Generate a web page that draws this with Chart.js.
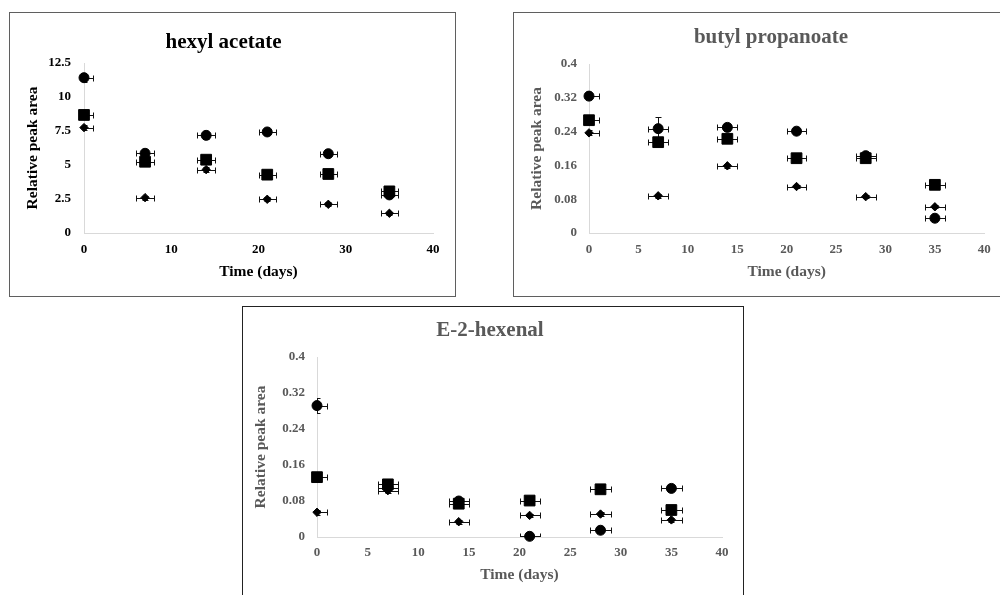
<!DOCTYPE html>
<html>
<head>
<meta charset="utf-8">
<script src="https://cdn.jsdelivr.net/npm/chart.js@4.4.1/dist/chart.umd.min.js"></script>
<style>
  html, body { margin: 0; padding: 0; background: #fff; width: 1000px; height: 595px; overflow: hidden; position: relative; }
  .box { position: absolute; box-sizing: border-box; border: 1px solid #5f5f5f; background: #fff; }
  .wrap { position: absolute; }
  canvas { display: block; }
</style>
</head>
<body>
<div class="box" style="left:9px; top:12px; width:447px; height:285px;"></div>
<div class="box" style="left:513px; top:12px; width:520px; height:285px;"></div>
<div class="box" style="left:242px; top:306px; width:502px; height:300px; border-color:#222;"></div>
<div class="wrap" style="left:10px; top:13px;"><canvas id="c1" width="445" height="283"></canvas></div>
<div class="wrap" style="left:514px; top:13px;"><canvas id="c2" width="486" height="283"></canvas></div>
<div class="wrap" style="left:243px; top:307px;"><canvas id="c3" width="500" height="288"></canvas></div>
<script>
// ---------- DATA ----------
const days = [0, 7, 14, 21, 28, 35];
const dayErr = [1, 1, 1, 1, 1, 1];

// hexyl acetate
const hexylCircle = [11.42, 5.86, 7.18, 7.43, 5.83, 2.80];
const hexylSquare = [8.68, 5.24, 5.39, 4.29, 4.34, 3.06];
const hexylDiamond = [7.75, 2.60, 4.66, 2.48, 2.11, 1.45];
const hexylCircleErr = [0.30, 0.30, 0.25, 0.25, 0.20, 0.20];
const hexylSquareErr = [0.30, 0.25, 0.25, 0.20, 0.20, 0.20];
const hexylDiamondErr = [0.20, 0.15, 0.20, 0.15, 0.15, 0.10];

// butyl propanoate
const butylCircle = [0.324, 0.247, 0.250, 0.241, 0.183, 0.035];
const butylSquare = [0.267, 0.215, 0.223, 0.177, 0.177, 0.114];
const butylDiamond = [0.237, 0.088, 0.159, 0.110, 0.086, 0.062];
const butylCircleErr = [0.008, 0.028, 0.008, 0.006, 0.006, 0.005];
const butylSquareErr = [0.008, 0.006, 0.006, 0.006, 0.005, 0.005];
const butylDiamondErr = [0.006, 0.004, 0.005, 0.004, 0.004, 0.004];

// E-2-hexenal
const hexenalCircle = [0.292, 0.110, 0.080, 0.0015, 0.015, 0.108];
const hexenalSquare = [0.133, 0.117, 0.074, 0.081, 0.106, 0.060];
const hexenalDiamond = [0.055, 0.103, 0.034, 0.048, 0.051, 0.038];
const hexenalCircleErr = [0.017, 0.006, 0.006, 0.002, 0.004, 0.006];
const hexenalSquareErr = [0.008, 0.006, 0.005, 0.005, 0.006, 0.005];
const hexenalDiamondErr = [0.005, 0.005, 0.004, 0.004, 0.004, 0.004];

// ticks and labels
const hexylYTicks = [0, 2.5, 5, 7.5, 10, 12.5];
const hexylXTicks = [0, 10, 20, 30, 40];
const fracYTicks = [0, 0.08, 0.16, 0.24, 0.32, 0.4];
const fracXTicks = [0, 5, 10, 15, 20, 25, 30, 35, 40];

const titles = ['hexyl acetate', 'butyl propanoate', 'E-2-hexenal'];
const xTitle = 'Time (days)';
const yTitle = 'Relative peak area';

// ---------- RENDERING ----------
const FONT = "'Liberation Serif', 'Times New Roman', serif";

const errorBarPlugin = {
  id: 'errorBars',
  beforeDatasetsDraw(chart) {
    const { ctx, chartArea, scales } = chart;
    const xs = scales.x, ys = scales.y;
    ctx.save();
    ctx.beginPath();
    ctx.rect(chartArea.left, chartArea.top - 30, chartArea.right - chartArea.left + 30, chartArea.bottom - chartArea.top + 30);
    ctx.clip();
    ctx.strokeStyle = '#111';
    ctx.lineWidth = 1;
    const cap = 3;
    chart.data.datasets.forEach(ds => {
      ds.data.forEach((pt, i) => {
        const px = xs.getPixelForValue(pt.x);
        const py = Math.round(ys.getPixelForValue(pt.y)) + 0.5;
        const ex = ds.xErr ? ds.xErr[i] : 0;
        const ey = ds.yErr ? ds.yErr[i] : 0;
        ctx.beginPath();
        if (ex) {
          const x1 = Math.round(xs.getPixelForValue(pt.x - ex)) + 0.5;
          const x2 = Math.round(xs.getPixelForValue(pt.x + ex)) + 0.5;
          ctx.moveTo(x1, py); ctx.lineTo(x2, py);
          ctx.moveTo(x1, py - cap); ctx.lineTo(x1, py + cap);
          ctx.moveTo(x2, py - cap); ctx.lineTo(x2, py + cap);
        }
        if (ey) {
          const pxr = Math.round(px) + 0.5;
          const y1 = Math.round(ys.getPixelForValue(pt.y - ey)) + 0.5;
          const y2 = Math.round(ys.getPixelForValue(pt.y + ey)) + 0.5;
          ctx.moveTo(pxr, y1); ctx.lineTo(pxr, y2);
          ctx.moveTo(pxr - cap, y1); ctx.lineTo(pxr + cap, y1);
          ctx.moveTo(pxr - cap, y2); ctx.lineTo(pxr + cap, y2);
        }
        ctx.stroke();
      });
    });
    ctx.restore();
  }
};

function series(values, errs, style) {
  const radius = style === 'circle' ? 5 : style === 'rect' ? 7.6 : 4.2;
  return {
    data: days.map((d, i) => ({ x: d, y: values[i] })),
    xErr: dayErr,
    yErr: errs,
    pointStyle: style,
    pointRadius: radius,
    pointHoverRadius: radius,
    pointBackgroundColor: '#000',
    pointBorderColor: '#000',
    pointBorderWidth: 1,
    showLine: false,
    clip: false
  };
}

function makeChart(id, cfg) {
  const tickFont = { family: FONT, size: 13, weight: 'bold' };
  const titleFont = { family: FONT, size: 15.5, weight: 'bold' };
  new Chart(document.getElementById(id), {
    type: 'scatter',
    data: { datasets: cfg.datasets },
    options: {
      responsive: false,
      animation: false,
      devicePixelRatio: 1,
      layout: { padding: { left: cfg.padL, right: cfg.padR, top: 0, bottom: 0 } },
      plugins: {
        legend: { display: false },
        tooltip: { enabled: false },
        title: {
          display: true,
          text: cfg.title,
          color: cfg.color,
          font: { family: FONT, size: 21, weight: 'bold' },
          padding: { top: cfg.titleTop, bottom: cfg.titleBottom }
        }
      },
      scales: {
        x: {
          type: 'linear',
          min: 0, max: 40,
          afterBuildTicks: s => { s.ticks = cfg.xTicks.map(v => ({ value: v })); },
          afterFit: s => { s.height = cfg.xHeight; },
          grid: { display: false, drawTicks: false },
          border: { display: true, color: '#d9d9d9', width: 1 },
          ticks: { color: cfg.color, font: tickFont, padding: cfg.xTickPad, maxRotation: 0, callback: v => String(v) },
          title: { display: true, text: xTitle, color: cfg.color, font: titleFont, padding: { top: 0, bottom: cfg.xTitleBottom } }
        },
        y: {
          type: 'linear',
          min: 0, max: cfg.yMax,
          afterBuildTicks: s => { s.ticks = cfg.yTicks.map(v => ({ value: v })); },
          afterFit: s => { s.width = cfg.yWidth; },
          grid: { display: false, drawTicks: false },
          border: { display: true, color: '#d9d9d9', width: 1 },
          ticks: { color: cfg.color, font: tickFont, padding: cfg.yTickPad, callback: v => String(v) },
          title: { display: true, text: yTitle, color: cfg.color, font: titleFont, padding: { top: cfg.yTitleTop, bottom: 0 } }
        }
      }
    },
    plugins: [errorBarPlugin]
  });
}

makeChart('c1', {
  title: titles[0], color: '#000',
  datasets: [
    series(hexylDiamond, hexylDiamondErr, 'rectRot'),
    series(hexylSquare, hexylSquareErr, 'rect'),
    series(hexylCircle, hexylCircleErr, 'circle')
  ],
  yMax: 12.5, yTicks: hexylYTicks, xTicks: hexylXTicks,
  padL: 4, padR: 22, yWidth: 70, xHeight: 63,
  titleTop: 17.4, titleBottom: 7.4, yTitleTop: 9.7, xTitleBottom: 14.7,
  yTickPad: 13, xTickPad: 9.2
});

makeChart('c2', {
  title: titles[1], color: '#595959',
  datasets: [
    series(butylDiamond, butylDiamondErr, 'rectRot'),
    series(butylSquare, butylSquareErr, 'rect'),
    series(butylCircle, butylCircleErr, 'circle')
  ],
  yMax: 0.4, yTicks: fracYTicks, xTicks: fracXTicks,
  padL: 38, padR: 10, yWidth: 37, xHeight: 63,
  titleTop: 12.4, titleBottom: 13.4, yTitleTop: -24.3, xTitleBottom: 14.7,
  yTickPad: 12, xTickPad: 9.2
});

makeChart('c3', {
  title: titles[2], color: '#595959',
  datasets: [
    series(hexenalDiamond, hexenalDiamondErr, 'rectRot'),
    series(hexenalSquare, hexenalSquareErr, 'rect'),
    series(hexenalCircle, hexenalCircleErr, 'circle')
  ],
  yMax: 0.4, yTicks: fracYTicks, xTicks: fracXTicks,
  padL: 15, padR: 21, yWidth: 59, xHeight: 58,
  titleTop: 11.4, titleBottom: 13.4, yTitleTop: -6.6, xTitleBottom: 10.7,
  yTickPad: 12, xTickPad: 8.2
});
</script>
</body>
</html>
